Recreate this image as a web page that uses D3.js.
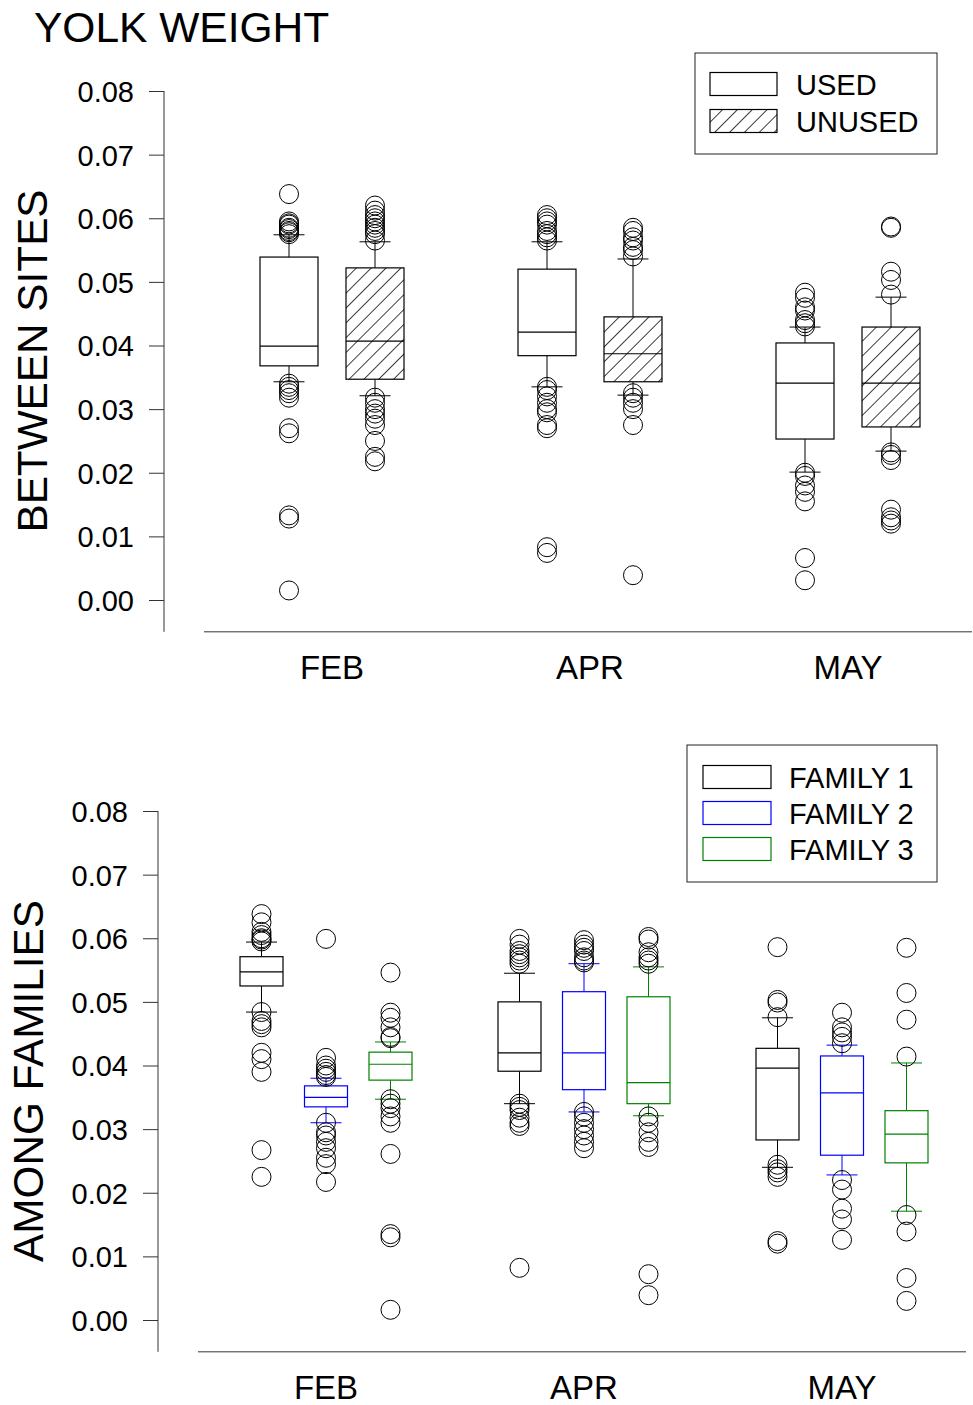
<!DOCTYPE html>
<html><head><meta charset="utf-8">
<script src="https://cdn.jsdelivr.net/npm/d3@7"></script>
<style>body{margin:0;background:#fff}svg{display:block;font-family:"Liberation Sans",Arial,sans-serif}</style>
</head><body><svg id="c" width="973" height="1405"></svg>
<script>
const months = ["FEB","APR","MAY"];
const yTicks = [0,0.01,0.02,0.03,0.04,0.05,0.06,0.07,0.08];
const tickLabels = ["0.00","0.01","0.02","0.03","0.04","0.05","0.06","0.07","0.08"];

// Panel 1: between sites
const siteSeries = ["USED","UNUSED"];
const siteQ1 = [[0.0368,0.0347],[0.0384,0.0343],[0.0253,0.0272]];
const siteMed = [[0.0399,0.0407],[0.0421,0.0387],[0.0341,0.0341]];
const siteQ3 = [[0.0539,0.0522],[0.0520,0.0445],[0.0404,0.0429]];
const siteLo = [[0.0343,0.0321],[0.0335,0.0322],[0.0201,0.0234]];
const siteHi = [[0.0574,0.0563],[0.0563,0.0536],[0.0429,0.0476]];
const siteOut = [
 [[0.0638,0.0595,0.059,0.0585,0.058,0.0578,0.0575,0.0583,0.0592,0.034,0.033,0.0325,0.0318,0.0335,0.027,0.0262,0.0133,0.0128,0.0015],
  [0.062,0.0612,0.0605,0.06,0.0595,0.059,0.0585,0.058,0.0575,0.0565,0.0318,0.031,0.030,0.0293,0.0285,0.0275,0.025,0.0225,0.0218]],
 [[0.0605,0.060,0.0595,0.059,0.058,0.0575,0.057,0.0565,0.0335,0.033,0.032,0.031,0.030,0.0295,0.0275,0.027,0.0083,0.0074],
  [0.0585,0.058,0.057,0.0565,0.0555,0.055,0.054,0.0325,0.0318,0.031,0.030,0.0275,0.0039]],
 [[0.0483,0.0475,0.046,0.0455,0.044,0.0435,0.043,0.020,0.0195,0.018,0.017,0.0155,0.0066,0.0031],
  [0.0587,0.0585,0.0516,0.0503,0.048,0.0232,0.0228,0.022,0.0142,0.013,0.0125,0.012]]
];

// Panel 2: among families
const famSeries = ["FAMILY 1","FAMILY 2","FAMILY 3"];
const famColors = ["#000000","#0000ff","#008000"];
const famQ1 = [[0.0525,0.0335,0.0377],[0.0391,0.0362,0.0340],[0.0283,0.0259,0.0247]];
const famMed = [[0.0547,0.0350,0.0402],[0.0420,0.0420,0.0373],[0.0396,0.0357,0.0292]];
const famQ3 = [[0.0571,0.0368,0.0421],[0.0500,0.0516,0.0508],[0.0427,0.0415,0.0329]];
const famLo = [[0.0484,0.0310,0.0347],[0.0340,0.0327,0.0321],[0.0240,0.0228,0.0171]];
const famHi = [[0.0594,0.0380,0.0437],[0.0545,0.0560,0.0555],[0.0475,0.0432,0.0404]];
const famOut = [
 [[0.0638,0.0625,0.061,0.0605,0.060,0.0598,0.0595,0.0484,0.047,0.0465,0.046,0.042,0.041,0.039,0.0267,0.0225],
  [0.0599,0.0412,0.040,0.0395,0.039,0.0385,0.0382,0.031,0.0295,0.029,0.028,0.027,0.0255,0.0245,0.0217],
  [0.0546,0.0483,0.0475,0.046,0.0445,0.0443,0.0347,0.034,0.0333,0.032,0.031,0.0261,0.0135,0.013,0.0016]],
 [[0.0599,0.059,0.058,0.0575,0.057,0.0565,0.056,0.034,0.0335,0.033,0.0318,0.031,0.0305,0.0082],
  [0.0597,0.059,0.0585,0.058,0.057,0.0565,0.0562,0.0327,0.032,0.031,0.030,0.029,0.028,0.027],
  [0.0602,0.0598,0.0578,0.057,0.0565,0.056,0.032,0.031,0.0295,0.028,0.0272,0.0072,0.0039]],
 [[0.0586,0.0503,0.0499,0.0476,0.0244,0.0237,0.0232,0.0225,0.0124,0.012],
  [0.0483,0.046,0.0452,0.0445,0.0435,0.022,0.0205,0.0175,0.0158,0.0126],
  [0.0585,0.0514,0.0472,0.0414,0.0165,0.0139,0.0066,0.003]]
];

const svg = d3.select("#c");
const FONT = '"Liberation Sans",Arial,sans-serif';

// hatch pattern
const defs = svg.append("defs");
const pat = defs.append("pattern").attr("id","hatch").attr("patternUnits","userSpaceOnUse")
  .attr("width",10.5).attr("height",10.5).attr("patternTransform","rotate(45)");
pat.append("rect").attr("width",10.5).attr("height",10.5).attr("fill","#fff");
pat.append("line").attr("x1",0).attr("y1",0).attr("x2",0).attr("y2",10.5).attr("stroke","#000").attr("stroke-width",1.5);

svg.append("text").attr("x",34).attr("y",42).attr("font-size",42.5).attr("font-family",FONT).text("YOLK WEIGHT");

function panel(cfg){
  const y = d3.scaleLinear().domain([0,0.08]).range([cfg.y0, cfg.y8]);
  const x = d3.scaleBand().domain(months).range([cfg.xr0, cfg.xr1]);
  const inner = d3.scaleBand().domain(cfg.series).range([-cfg.innerHalf, cfg.innerHalf]);
  const g = svg.append("g");
  // y axis
  const ax = g.append("g").attr("transform",`translate(${cfg.axX},0)`)
    .call(d3.axisLeft(y).tickValues(yTicks).tickFormat((d,i)=>tickLabels[i]).tickSize(15).tickPadding(15));
  ax.select(".domain").remove();
  ax.selectAll("line").attr("stroke","#333");
  ax.selectAll("text").attr("font-size",29).attr("font-family",FONT).attr("fill","#000").attr("dy","0.36em");
  g.append("line").attr("x1",cfg.axX).attr("x2",cfg.axX).attr("y1",y(0.08)).attr("y2",y(-0.005)).attr("stroke","#333");
  // x axis
  const by = y(-0.005);
  g.append("line").attr("x1",cfg.xr0+1).attr("x2",cfg.xr1-5).attr("y1",by).attr("y2",by).attr("stroke","#333");
  g.selectAll(".cat").data(months).enter().append("text")
    .attr("x",d=>x(d)+x.bandwidth()/2).attr("y",cfg.catY).attr("text-anchor","middle")
    .attr("font-size",33).attr("font-family",FONT).text(d=>d);
  // y title
  g.append("text").attr("transform",`translate(${cfg.titleX},${cfg.titleY}) rotate(-90)`)
    .attr("text-anchor","middle").attr("font-size",42.3).attr("font-family",FONT).text(cfg.title);
  // boxes
  months.forEach((m,mi)=>{
    cfg.series.forEach((s,si)=>{
      const cx = x(m)+x.bandwidth()/2 + inner(s)+inner.bandwidth()/2;
      const col = cfg.colors[si];
      const bw = cfg.boxW, cw = 31;
      const q1=cfg.q1[mi][si], md=cfg.med[mi][si], q3=cfg.q3[mi][si], lo=cfg.lo[mi][si], hi=cfg.hi[mi][si];
      const bg = g.append("g");
      bg.append("line").attr("x1",cx).attr("x2",cx).attr("y1",y(q3)).attr("y2",y(hi)).attr("stroke",col);
      bg.append("line").attr("x1",cx).attr("x2",cx).attr("y1",y(q1)).attr("y2",y(lo)).attr("stroke",col);
      bg.append("line").attr("x1",cx-cw/2).attr("x2",cx+cw/2).attr("y1",y(hi)).attr("y2",y(hi)).attr("stroke",col);
      bg.append("line").attr("x1",cx-cw/2).attr("x2",cx+cw/2).attr("y1",y(lo)).attr("y2",y(lo)).attr("stroke",col);
      bg.append("rect").attr("x",cx-bw/2).attr("y",y(q3)).attr("width",bw).attr("height",y(q1)-y(q3))
        .attr("fill",cfg.fills[si]).attr("stroke",col).attr("stroke-width",1.2);
      bg.append("line").attr("x1",cx-bw/2).attr("x2",cx+bw/2).attr("y1",y(md)).attr("y2",y(md)).attr("stroke",col).attr("stroke-width",1.2);
      bg.selectAll("circle").data(cfg.out[mi][si]).enter().append("circle")
        .attr("cx",cx).attr("cy",d=>y(d)).attr("r",9.5).attr("fill","none").attr("stroke","#000").attr("stroke-width",1);
    });
  });
  // legend
  const L = cfg.legend;
  g.append("rect").attr("x",L.x).attr("y",L.y).attr("width",L.w).attr("height",L.h).attr("fill","#fff").attr("stroke","#222");
  cfg.series.forEach((s,si)=>{
    const cy = L.row0 + si*L.rowStep;
    g.append("rect").attr("x",L.sx).attr("y",cy-11.5).attr("width",L.sw).attr("height",23)
      .attr("fill",cfg.fills[si]).attr("stroke",cfg.colors[si]).attr("stroke-width",1.2);
    g.append("text").attr("x",L.tx).attr("y",cy+10.5).attr("font-size",29).attr("font-family",FONT).text(s);
  });
}

panel({
  y0:600, y8:91, xr0:203, xr1:977, innerHalf:86, boxW:58, axX:164, catY:679,
  series:siteSeries, colors:["#000","#000"], fills:["#fff","url(#hatch)"],
  q1:siteQ1, med:siteMed, q3:siteQ3, lo:siteLo, hi:siteHi, out:siteOut,
  title:"BETWEEN SITES", titleX:47, titleY:361,
  legend:{x:695,y:53,w:242,h:101,sx:710,sw:67,tx:796,row0:84,rowStep:37}
});
panel({
  y0:1320, y8:811, xr0:197, xr1:971, innerHalf:96.75, boxW:43, axX:158, catY:1399,
  series:famSeries, colors:famColors, fills:["#fff","#fff","#fff"],
  q1:famQ1, med:famMed, q3:famQ3, lo:famLo, hi:famHi, out:famOut,
  title:"AMONG FAMILIES", titleX:43, titleY:1081,
  legend:{x:687,y:745,w:250,h:137,sx:703,sw:68,tx:789,row0:777,rowStep:36}
});
</script></body></html>
